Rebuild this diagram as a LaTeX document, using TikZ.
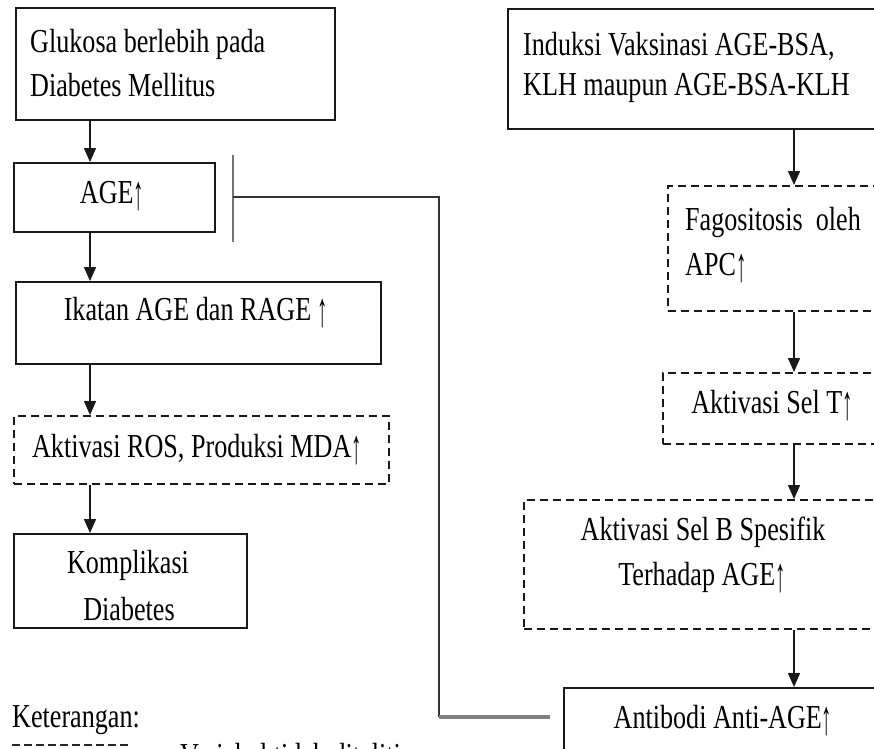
\documentclass[tikz,border=0pt]{standalone}
\usepackage{fontspec}
\setmainfont{Liberation Serif}[FakeStretch=0.78]
\usetikzlibrary{arrows.meta}
\newcommand\uparr{\raisebox{-0.2em}{\scalebox{0.8}[1.45]{↑}}}
\begin{document}
\begin{tikzpicture}[x=1pt,y=-1pt,
  boxstyle/.style={draw=black!90, line width=1.8pt, inner sep=0pt, anchor=north west},
  dbox/.style={boxstyle, dash pattern=on 8pt off 5pt},
  txt/.style={inner sep=0pt, text=black, font=\fontsize{33.5}{44}\selectfont},
  arr/.style={draw=black!90, line width=1.5pt, -{Triangle[width=12pt,length=14pt]}},
  conn/.style={draw=black!80, line width=1.6pt},
  barline/.style={draw=black!55, line width=2.4pt},
  grayline/.style={draw=black!50, line width=3.2pt}]
\useasboundingbox (0,0) rectangle (874,748);
\clip (0,0) rectangle (874,748);
% left column boxes
\node[boxstyle, minimum width=319pt, minimum height=112pt] (glu) at (15,7) {};
\node[boxstyle, minimum width=201pt, minimum height=69pt] (age) at (13,162) {};
\node[boxstyle, minimum width=365pt, minimum height=82pt] (ika) at (15,281) {};
\node[dbox, minimum width=375pt, minimum height=68pt] (ros) at (13,415) {};
\node[boxstyle, minimum width=233pt, minimum height=94pt] (kom) at (13,533) {};
% right column boxes
\node[boxstyle, minimum width=373pt, minimum height=120pt] (ind) at (507,8) {};
\node[dbox, minimum width=213pt, minimum height=125pt] (fag) at (667,185) {};
\node[dbox, minimum width=218pt, minimum height=71pt] (selt) at (662,372) {};
\node[dbox, minimum width=357pt, minimum height=129pt] (selb) at (523,499) {};
\node[boxstyle, minimum width=317pt, minimum height=80pt] (anti) at (563,687) {};
% texts
\node[txt, anchor=base west] (tglu1) at (30,52) {Glukosa berlebih pada};
\node[txt, anchor=base west] (tglu2) at (30,96) {Diabetes Mellitus};
\node[txt, anchor=base] (tage) at (112,203) {AGE\uparr};
\node[txt, anchor=base] (tika) at (196,320) {Ikatan AGE dan RAGE \uparr};
\node[txt, anchor=base] (tros) at (197,457) {Aktivasi ROS, Produksi MDA\uparr};
\node[txt, anchor=base] (tkom1) at (128,573) {Komplikasi};
\node[txt, anchor=base] (tkom2) at (129,620) {Diabetes};
\node[txt, anchor=base west] (tind1) at (523,55) {Induksi Vaksinasi AGE-BSA,};
\node[txt, anchor=base west] (tind2) at (523,95) {KLH maupun AGE-BSA-KLH};
\node[txt, anchor=base west] (tfag1) at (685,230) {Fagositosis\ \ oleh};
\node[txt, anchor=base west] (tfag2) at (685,275) {APC\uparr};
\node[txt, anchor=base] (tselt) at (772,413) {Aktivasi Sel T\uparr};
\node[txt, anchor=base] (tselb1) at (703,540) {Aktivasi Sel B Spesifik};
\node[txt, anchor=base] (tselb2) at (702,585) {Terhadap AGE\uparr};
\node[txt, anchor=base] (tanti) at (723,728) {Antibodi Anti-AGE\uparr};
\node[txt, anchor=base west] (tket) at (12,727) {Keterangan:};
\node[txt, anchor=base west] (tleg) at (180,766) {Variabel tidak diteliti};
% arrow columns
\coordinate (cl) at (90,0);
\coordinate (cr) at (794,0);
\draw[arr] (glu.south -| cl) -- (age.north -| cl);
\draw[arr] (age.south -| cl) -- (ika.north -| cl);
\draw[arr] (ika.south -| cl) -- (ros.north -| cl);
\draw[arr] (ros.south -| cl) -- (kom.north -| cl);
\draw[arr] (ind.south -| cr) -- (fag.north -| cr);
\draw[arr] (fag.south -| cr) -- (selt.north -| cr);
\draw[arr] (selt.south -| cr) -- (selb.north -| cr);
\draw[arr] (selb.south -| cr) -- (anti.north -| cr);
% inhibition connector
\coordinate (inhT) at (233,155);
\coordinate (inhB) at (233,242);
\coordinate (inh) at (233,197);
\coordinate (c1) at (439,197);
\coordinate (c2) at (439,717);
\coordinate (c3) at (550,717);
\draw[barline] (inhT) -- (inhB);
\draw[conn] (inh) -- (c1) -- (c2);
\draw[grayline] (c2) -- (c3);
% legend
\coordinate (l1) at (12,745);
\coordinate (l2) at (130,745);
\draw[draw=black!85, line width=1.8pt, dash pattern=on 8pt off 4pt] (l1) -- (l2);
\end{tikzpicture}
\end{document}
